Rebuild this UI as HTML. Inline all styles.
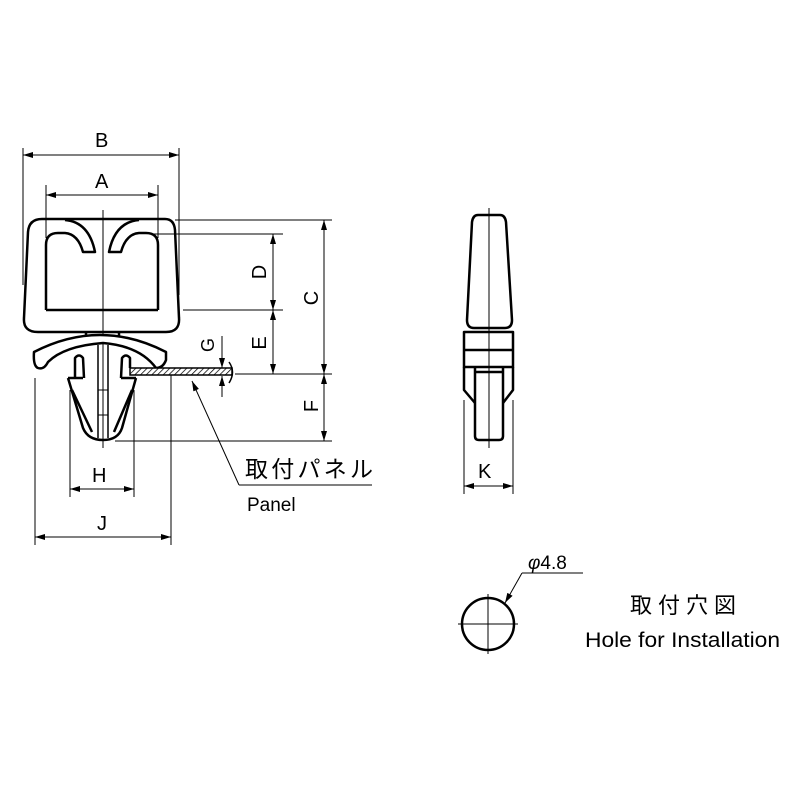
<!DOCTYPE html>
<html><head><meta charset="utf-8"><style>html,body{margin:0;padding:0;background:#fff}</style></head>
<body>
<svg width="800" height="800" viewBox="0 0 800 800" xmlns="http://www.w3.org/2000/svg" font-family="Liberation Sans, Noto Sans CJK JP, sans-serif">
<defs>
<marker id="ar" viewBox="0 0 10 6" refX="10" refY="3" markerWidth="11" markerHeight="6" orient="auto-start-reverse" markerUnits="userSpaceOnUse"><path d="M0,0 L10,3 L0,6 Z" fill="#000"/></marker>
<pattern id="hat" width="4" height="4" patternUnits="userSpaceOnUse" patternTransform="rotate(45)"><rect width="4" height="4" fill="#fff"/><line x1="0" y1="0" x2="0" y2="4" stroke="#000" stroke-width="1.5"/></pattern>
</defs>
<g fill="none" stroke="#000" stroke-width="1">
<line x1="23" y1="148" x2="23" y2="285"/>
<line x1="179" y1="148" x2="179" y2="295"/>
<line x1="46" y1="185" x2="46" y2="238"/>
<line x1="158" y1="185" x2="158" y2="238"/>
<line x1="175" y1="220" x2="332" y2="220"/>
<line x1="150" y1="234" x2="283" y2="234"/>
<line x1="183" y1="310" x2="283" y2="310"/>
<line x1="235" y1="374" x2="332" y2="374"/>
<line x1="115" y1="441" x2="332" y2="441"/>
<line x1="35" y1="378" x2="35" y2="545"/>
<line x1="70" y1="390" x2="70" y2="497"/>
<line x1="134" y1="390" x2="134" y2="497"/>
<line x1="171" y1="375" x2="171" y2="545"/>
<line x1="23" y1="155" x2="179" y2="155" marker-start="url(#ar)" marker-end="url(#ar)"/>
<line x1="46" y1="195" x2="158" y2="195" marker-start="url(#ar)" marker-end="url(#ar)"/>
<line x1="324" y1="220" x2="324" y2="374" marker-start="url(#ar)" marker-end="url(#ar)"/>
<line x1="324" y1="374" x2="324" y2="441" marker-start="url(#ar)" marker-end="url(#ar)"/>
<line x1="273" y1="234" x2="273" y2="310" marker-start="url(#ar)" marker-end="url(#ar)"/>
<line x1="273" y1="310" x2="273" y2="374" marker-start="url(#ar)" marker-end="url(#ar)"/>
<line x1="222" y1="336" x2="222" y2="368" marker-end="url(#ar)"/>
<line x1="222" y1="397" x2="222" y2="376" marker-end="url(#ar)"/>
<line x1="70" y1="489" x2="134" y2="489" marker-start="url(#ar)" marker-end="url(#ar)"/>
<line x1="35" y1="537" x2="171" y2="537" marker-start="url(#ar)" marker-end="url(#ar)"/>
<line x1="103" y1="210" x2="103" y2="448"/>
<polyline points="239,485 372,485"/>
<line x1="239" y1="485" x2="192" y2="381" marker-end="url(#ar)"/>
</g>
<g fill="none" stroke="#000" stroke-width="2.5" stroke-linejoin="round">
<path d="M42,219 L165,219 Q174,219 175,230 L179,318 Q180,332 166,332 L38,332 Q23,332 24,318 L28,232 Q29,219 42,219 Z"/>
<path d="M46,310 L46,245 Q46,233 58,233 L65,233 Q78,234 83,252 L95,252 Q89,222 65,220"/>
<path d="M158,310 L158,245 Q158,233 146,233 L139,233 Q126,234 121,252 L109,252 Q115,222 139,220"/>
<line x1="46" y1="310" x2="158" y2="310"/>
<path d="M86,332 L86,337 M119,332 L119,337"/>
<path d="M34,352 Q100,318 166,352 L166,360 Q163,368 156,368 Q140,346 103,343 Q64,346 48,362 Q44,370 38,368 Q33,366 34,352 Z" fill="#fff"/>
<path d="M75,378 L75,358 Q79,353 83,358 L84,378 M130,368 L130,358 Q126,353 122,358 L121,378"/>
<path d="M68,378 L83,378 M136,378 L121,378"/>
<path d="M72,390 L92,432 M132,390 L114,432"/>
<path d="M68,378 L83,428 Q88,440 103,440 Q118,440 122,428 L136,378"/>
<path d="M98,345 L98,438 M108,345 L108,438" stroke-width="1.5"/>
<path d="M98,390 L108,390 M98,415 L108,415" stroke-width="1"/>
</g>
<rect x="130" y="368" width="102" height="7" fill="url(#hat)" stroke="#000" stroke-width="1.5"/>
<path d="M229,362 Q236,372 229,383" fill="none" stroke="#000" stroke-width="1.5"/>
<g fill="none" stroke="#000" stroke-width="2.5" stroke-linejoin="round">
<path d="M478,215 L500,215 Q505,215 506,222 L512,320 Q512,328 505,328 L474,328 Q467,328 467,320 L472,222 Q473,215 478,215 Z"/>
<rect x="464" y="332" width="49" height="35"/>
<line x1="464" y1="350" x2="513" y2="350"/>
<path d="M475,367 L475,436 Q475,440 479,440 L499,440 Q503,440 503,436 L503,367"/>
<line x1="475" y1="372" x2="503" y2="372"/>
<path d="M464,367 L464,390 L475,403 M513,367 L513,390 L503,403"/>
</g>
<g fill="none" stroke="#000" stroke-width="1">
<line x1="489" y1="208" x2="489" y2="448"/>
<line x1="464" y1="400" x2="464" y2="494"/>
<line x1="513" y1="400" x2="513" y2="494"/>
<line x1="464" y1="486" x2="513" y2="486" marker-start="url(#ar)" marker-end="url(#ar)"/>
<line x1="458" y1="624" x2="518" y2="624"/>
<line x1="488" y1="594" x2="488" y2="654"/>
<polyline points="583,573 522,573"/>
<line x1="522" y1="573" x2="505" y2="603" marker-end="url(#ar)"/>
</g>
<circle cx="488" cy="624" r="26" fill="none" stroke="#000" stroke-width="2.5"/>
<g font-size="20" fill="#000">
<text x="95" y="147">B</text>
<text x="95" y="188">A</text>
<text x="92" y="482">H</text>
<text x="97" y="530">J</text>
<text x="478" y="478">K</text>
<text transform="translate(266,272) rotate(-90)" text-anchor="middle">D</text>
<text transform="translate(266,343) rotate(-90)" text-anchor="middle">E</text>
<text transform="translate(318,298) rotate(-90)" text-anchor="middle">C</text>
<text transform="translate(318,406) rotate(-90)" text-anchor="middle">F</text>
<text transform="translate(214,345) rotate(-90)" text-anchor="middle" font-size="18">G</text>
<text x="245" y="477" font-size="23" textLength="128">取付パネル</text>
<text x="247" y="511" font-size="19">Panel</text>
<text x="528" y="569" font-size="19"><tspan font-style="italic">φ</tspan>4.8</text>
<text x="630" y="613" font-size="22" textLength="106">取付穴図</text>
<text x="585" y="647" font-size="21" textLength="195" lengthAdjust="spacingAndGlyphs">Hole for Installation</text>
</g>
</svg>
</body></html>
